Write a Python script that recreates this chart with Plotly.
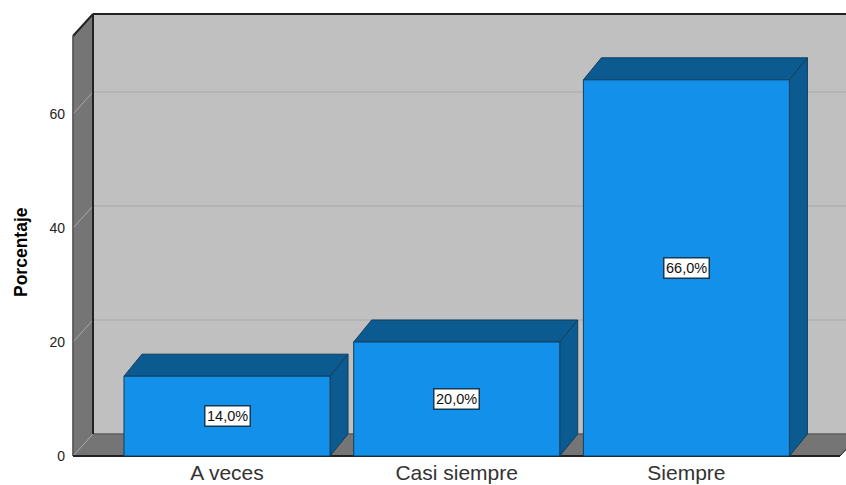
import plotly.graph_objects as go

categories = ["A veces", "Casi siempre", "Siempre"]
values = [14.0, 20.0, 66.0]
labels = ["14,0%", "20,0%", "66,0%"]
y_ticks = [0, 20, 40, 60]
y_title = "Porcentaje"

PPU = 5.7
BAR_W = 0.897
DX = 20 / 229.7
BAR_DX = 18 / 229.7
DY = 22 / PPU
FRONT_L = (73 - 227) / 229.7
FRONT_TOP = 420 / PPU
FLOOR_R = (840 - 227) / 229.7
X_MIN = (70 - 227) / 229.7
X_MAX = (846 - 227) / 229.7
Y_MIN = -2 / PPU
Y_MAX = (456 - 10) / PPU

WALL = "#c0c0c0"
SIDE = "#757575"
BAR = "#1390e9"
BAR_DARK = "#0b5a90"
EDGE = "#222222"
BAR_EDGE = "#123f60"
GRID = "#a9a9a9"


def poly(pts, fill, line=None, width=1):
    path = "M " + " L ".join(f"{x},{y}" for x, y in pts) + " Z"
    return dict(type="path", path=path, xref="x", yref="y", fillcolor=fill,
                line=dict(color=line or fill, width=width), layer="below")


def seg(x0, y0, x1, y1, color, width):
    return dict(type="line", x0=x0, y0=y0, x1=x1, y1=y1, xref="x", yref="y",
                line=dict(color=color, width=width), layer="below")


bl = FRONT_L + DX
shapes = [
    poly([(bl, DY), (X_MAX + 1, DY), (X_MAX + 1, FRONT_TOP + DY), (bl, FRONT_TOP + DY)], WALL),
    poly([(FRONT_L, 0), (bl, DY), (bl, FRONT_TOP + DY), (FRONT_L, FRONT_TOP)], SIDE),
    poly([(FRONT_L, 0), (bl, DY), (FLOOR_R + DX, DY), (FLOOR_R, 0)], SIDE),
]
for t in y_ticks[1:]:
    shapes.append(seg(FRONT_L, t, bl, t + DY, GRID, 1))
    shapes.append(seg(bl, t + DY, X_MAX, t + DY, GRID, 1))
shapes.append(seg(FRONT_L, 0, bl, DY, GRID, 1))
shapes.append(seg(bl, DY, X_MAX, DY, "#555555", 1))
shapes += [
    seg(bl, DY, bl, FRONT_TOP + DY, EDGE, 2),
    seg(bl, FRONT_TOP + DY, X_MAX, FRONT_TOP + DY, EDGE, 2),
    seg(FRONT_L, FRONT_TOP, bl, FRONT_TOP + DY, EDGE, 2),
    seg(FRONT_L, 0, FRONT_L, FRONT_TOP, "#555555", 1.5),
    seg(FRONT_L, 0, FLOOR_R, 0, EDGE, 2),
    seg(FLOOR_R, 0, FLOOR_R + DX, DY, EDGE, 1),
]
for i, v in enumerate(values):
    l, r = i - BAR_W / 2, i + BAR_W / 2
    shapes.append(poly([(l, v), (l + BAR_DX, v + DY), (r + BAR_DX, v + DY), (r, v)], BAR_DARK, BAR_EDGE))
    shapes.append(poly([(r, 0), (r + BAR_DX, DY), (r + BAR_DX, v + DY), (r, v)], BAR_DARK, BAR_EDGE))

fig = go.Figure(go.Bar(
    x=[0, 1, 2], y=values, width=BAR_W,
    marker=dict(color=BAR, line=dict(color=BAR_EDGE, width=1)),
    hoverinfo="skip",
))

annotations = [
    dict(x=i, y=v / 2, text=t, showarrow=False, xref="x", yref="y",
         font=dict(family="Liberation Sans", size=14.5, color="#111111"),
         bgcolor="#ffffff", bordercolor="#123a55", borderwidth=1.5, borderpad=1.5)
    for i, (v, t) in enumerate(zip(values, labels))
]
annotations.append(dict(
    x=(21 - 70) / 776, y=(458 - 252) / 448, xref="paper", yref="paper", text=y_title,
    textangle=-90, showarrow=False, xanchor="center", yanchor="middle",
    font=dict(family="Liberation Sans", size=17.5, weight="bold", color="#000000"),
))

fig.update_layout(
    width=846, height=485, autosize=False,
    margin=dict(l=70, r=0, t=10, b=27),
    paper_bgcolor="#ffffff", plot_bgcolor="#ffffff",
    showlegend=False, shapes=shapes, annotations=annotations,
    font=dict(family="Liberation Sans", color="#222222"),
    xaxis=dict(range=[X_MIN, X_MAX], tickmode="array", tickvals=[0, 1, 2],
               ticktext=categories, showgrid=False, zeroline=False, showline=False,
               automargin=False,
               ticks="", tickfont=dict(size=21, color="#333333"), ticklabelstandoff=0),
    yaxis=dict(range=[Y_MIN, Y_MAX], tickmode="array", tickvals=y_ticks,
               showgrid=False, zeroline=False, showline=False, ticks="",
               automargin=False,
               tickfont=dict(size=14, color="#222222"), ticklabelstandoff=4),
)
fig.write_html("out.html", config={"displayModeBar": False},
               post_script="document.body.style.margin='0';")
